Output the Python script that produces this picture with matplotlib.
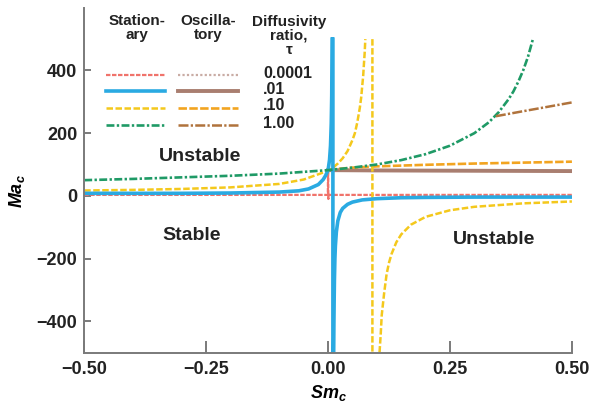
import numpy as np
import matplotlib
matplotlib.use("Agg")
import matplotlib.pyplot as plt
from matplotlib.lines import Line2D

nan = np.nan

# ---- data ----
tau_labels = ["0.0001", ".01", ".10", "1.00"]

# Stationary curves
sm_st_0001 = [-0.5, -0.25, -0.05, -0.01, -0.0005, 0.0, 0.0006, 0.0012, 0.01, 0.05, 0.25, 0.5]
ma_st_0001 = [3, 3, 3, 3, 3, 82, -10, 3, 3, 3, 3, 3]

sm_st_01 = [-0.5, -0.3, -0.2, -0.1, -0.06, -0.04, -0.02, -0.01, -0.005, 0.0, 0.003, 0.005,
            0.0065, 0.0075, 0.0083, nan, 0.0099, 0.0099, nan,
            0.0115, 0.012, 0.0125, 0.013, 0.014, 0.015, 0.017, 0.02, 0.025,
            0.03, 0.04, 0.05, 0.07, 0.1, 0.15, 0.2, 0.3, 0.5]
ma_st_01 = [8, 8, 9, 12, 16, 22, 36, 52, 65, 82, 115, 160,
            230, 320, 500, nan, 500, -500, nan,
            -500, -400, -330, -270, -200, -160, -115, -80, -53,
            -40, -27, -20, -13, -9, -6, -5, -4, -4]

sm_st_10 = [-0.5, -0.4, -0.3, -0.2, -0.1, -0.05, 0.0, 0.01, 0.02, 0.03, 0.04, 0.05, 0.055,
            0.06, 0.065, 0.068, 0.07, 0.072, 0.0735, 0.075, 0.0764, nan, 0.0909, 0.0909, nan,
            0.1055, 0.108, 0.11, 0.115, 0.12, 0.125, 0.13, 0.14, 0.15, 0.17, 0.2,
            0.25, 0.3, 0.4, 0.5]
ma_st_10 = [17, 19, 22, 27, 38, 52, 80, 90, 103, 120, 143, 178, 200,
            235, 280, 315, 350, 383, 420, 455, 500, nan, 500, -500, nan,
            -500, -440, -381, -310, -250, -213, -186, -148, -123, -92, -67,
            -46, -35, -24, -18]

sm_st_1 = [-0.5, -0.4, -0.3, -0.2, -0.1, 0.0, 0.05, 0.1, 0.15, 0.2, 0.25, 0.3, 0.33, 0.35,
           0.37, 0.38, 0.39, 0.40, 0.41, 0.42]
ma_st_1 = [50, 54, 59, 64, 71, 82, 90, 100, 114, 133, 160, 200, 235, 267,
           308, 333, 364, 400, 444, 500]

# Oscillatory curves
sm_os_0001 = [0.0, 0.5]
ma_os_0001 = [82, 79]

sm_os_01 = [0.0, 0.1, 0.2, 0.3, 0.4, 0.5]
ma_os_01 = [82, 81, 80.5, 80, 79.5, 79]

sm_os_10 = [0.0, 0.05, 0.1, 0.2, 0.3, 0.4, 0.5]
ma_os_10 = [83, 90, 94, 99, 103, 106, 109]

sm_os_1 = [0.344, 0.4, 0.45, 0.5]
ma_os_1 = [254, 270, 284, 298]

x_ticks = [-0.50, -0.25, 0.00, 0.25, 0.50]
y_ticks = [-400, -200, 0, 200, 400]

# ---- styles ----
st_styles = [
    dict(color="#f0736b", lw=1.6, ls=(0, (2.0, 0.7))),
    dict(color="#2aaae2", lw=2.6, ls="-"),
    dict(color="#f4c81c", lw=1.8, ls=(0, (2.6, 1.0))),
    dict(color="#1f9a66", lw=1.9, ls=(0, (3, 0.9, 0.9, 0.9))),
]
os_styles = [
    dict(color="#c9aca4", lw=1.6, ls=(0, (1, 1.0))),
    dict(color="#a97e70", lw=2.8, ls="-"),
    dict(color="#f2a420", lw=1.9, ls=(0, (3.2, 0.9))),
    dict(color="#b0733c", lw=1.8, ls=(0, (4, 0.9, 0.9, 0.9))),
]

plt.rcParams['font.family'] = ['Liberation Sans', 'DejaVu Sans']

fig = plt.figure(figsize=(5.89, 4.09), dpi=100)
ax = fig.add_axes([0.143, 0.138, 0.828, 0.843])

st_data = [(sm_st_0001, ma_st_0001), (sm_st_01, ma_st_01), (sm_st_10, ma_st_10), (sm_st_1, ma_st_1)]
os_data = [(sm_os_0001, ma_os_0001), (sm_os_01, ma_os_01), (sm_os_10, ma_os_10), (sm_os_1, ma_os_1)]

ax.plot(*os_data[0], **os_styles[0])
ax.plot(*os_data[1], **os_styles[1])
ax.plot(*st_data[0], **st_styles[0])
ax.plot(*os_data[2], **os_styles[2])
ax.plot(*st_data[2], **st_styles[2])
ax.plot(*st_data[1], **st_styles[1])
ax.plot(*st_data[3], **st_styles[3])
ax.plot(*os_data[3], **os_styles[3])

ax.set_xlim(-0.5, 0.5)
ax.set_ylim(-500, 600)
ax.set_xticks(x_ticks)
ax.set_xticklabels(["\u22120.50", "\u22120.25", "0.00", "0.25", "0.50"])
ax.set_yticks(y_ticks)
ax.set_yticklabels(["\u2212400", "\u2212200", "0", "200", "400"])

for s in ["top", "right"]:
    ax.spines[s].set_visible(False)
for s in ["left", "bottom"]:
    ax.spines[s].set_color("#7a7a7a")
    ax.spines[s].set_linewidth(1.4)
ax.tick_params(axis="x", direction="in", length=9, width=1.4, color="#7a7a7a",
               labelsize=13, pad=6)
ax.tick_params(axis="y", direction="in", length=5, width=1.4, color="#7a7a7a",
               labelsize=13, pad=5)
for lab in ax.get_xticklabels() + ax.get_yticklabels():
    lab.set_fontweight("bold")
    lab.set_color("#222222")

ax.set_xlabel("Sm$_\\mathregular{c}$", fontsize=13, fontweight="bold", fontstyle="italic", labelpad=4)
ax.set_ylabel("Ma$_\\mathregular{c}$", fontsize=13, fontweight="bold", fontstyle="italic")
ax.yaxis.set_label_coords(-0.118, 0.47)

# region labels
lbl_kw = dict(fontsize=14, fontweight="bold", ha="center", va="center", color="#222222")
ax.text(-0.262, 126, "Unstable", **lbl_kw)
ax.text(-0.28, -125, "Stable", **lbl_kw)
ax.text(0.34, -138, "Unstable", **lbl_kw)

# custom legend (in figure pixel coordinates converted to fractions)
W, H = 589.0, 409.0
def fx(px):
    return px / W
def fy(py):
    return 1 - py / H

hdr_kw = dict(fontsize=11, fontweight="bold", ha="center", va="center", color="#222222",
              linespacing=1.0)
fig.text(fx(137), fy(28), "Station-\nary", **hdr_kw)
fig.text(fx(208), fy(28), "Oscilla-\ntory", **hdr_kw)
fig.text(fx(289), fy(36), "Diffusivity\nratio,\n\u03c4", **hdr_kw)

rows_y = [75, 91, 108, 125]
for i, yy in enumerate(rows_y):
    fig.add_artist(Line2D([fx(106), fx(165)], [fy(yy), fy(yy)], **st_styles[i]))
    fig.add_artist(Line2D([fx(178), fx(238)], [fy(yy), fy(yy)], **os_styles[i]))
    fig.text(fx(263), fy(yy - 2), tau_labels[i], fontsize=11.5, fontweight="bold",
             ha="left", va="center", color="#222222")

fig.savefig("out.png", dpi=100, facecolor="white")
